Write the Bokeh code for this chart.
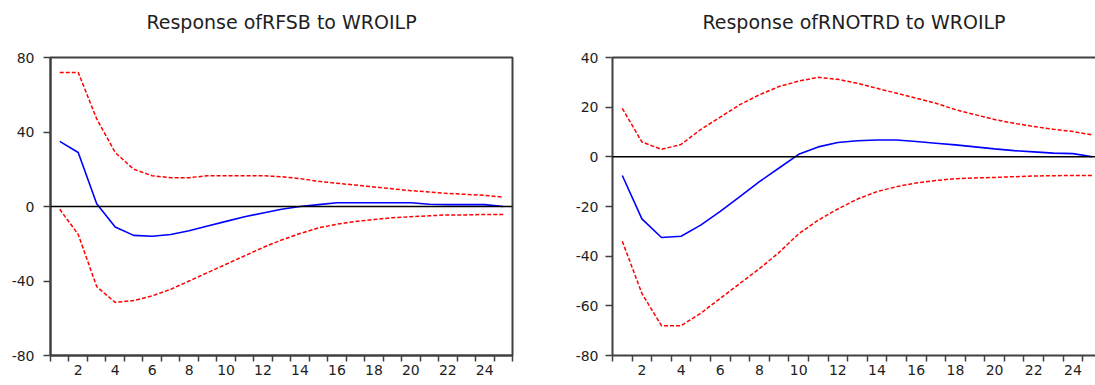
from bokeh.plotting import figure
from bokeh.layouts import row
from bokeh.models import Range1d, FixedTicker, Span, LinearAxis
from bokeh.embed import file_html
from bokeh.resources import INLINE

# ---- data ----
periods = list(range(1, 26))
x_tick_labels = [2, 4, 6, 8, 10, 12, 14, 16, 18, 20, 22, 24]

title_left = "Response ofRFSB to WROILP"
rfsb_resp = [35, 29, 1.5, -11, -15.5, -16, -15, -13, -10.5, -8, -5.5, -3.5, -1.5, 0, 1,
             2, 2, 2, 2, 2, 1.2, 1, 1, 1, 0]
rfsb_upper = [72, 72, 47, 29, 20, 16.5, 15.5, 15.5, 16.5, 16.5, 16.5, 16.5, 16, 15, 13.5,
              12.5, 11.5, 10.5, 9.5, 8.5, 7.8, 7, 6.5, 6, 5]
rfsb_lower = [-1.5, -15, -43, -51.5, -50.5, -48, -44.5, -40, -35.5, -31, -26.5, -22, -18,
              -14.5, -11.5, -9.5, -8, -7, -6, -5.5, -5, -4.5, -4.5, -4.3, -4.3]
rfsb_yticks = [-80, -40, 0, 40, 80]

title_right = "Response ofRNOTRD to WROILP"
rnotrd_resp = [-7.5, -25, -32.5, -32, -27.5, -22, -16, -10, -4.5, 1, 4, 5.8, 6.5, 6.8, 6.8,
               6.2, 5.5, 4.8, 4, 3.2, 2.5, 2, 1.5, 1.3, 0]
rnotrd_upper = [19.5, 6, 3, 5, 11, 16, 21, 25, 28.3, 30.5, 32, 31.2, 29.6, 27.6, 25.6,
                23.6, 21.6, 19, 17, 15, 13.5, 12.2, 11.1, 10.2, 8.8]
rnotrd_lower = [-34, -55, -68, -68, -63, -57, -51, -45, -38.5, -31, -25.5, -21, -17, -14,
                -12, -10.5, -9.5, -8.8, -8.5, -8.3, -8, -7.7, -7.6, -7.5, -7.5]
rnotrd_yticks = [-80, -60, -40, -20, 0, 20, 40]

FONT = "DejaVu Sans"
TXT = "#1e1e1e"
FRAME = "#404040"
boundaries = [i + 0.5 for i in range(0, 26)]


def make_panel(title, resp, upper, lower, yticks, width, mbl, mbr, xend, ystandoff,
               full_outline):
    p = figure(width=width, height=385, output_backend="svg", toolbar_location=None,
               title=title, x_range=Range1d(0.5, xend),
               y_range=Range1d(yticks[0], yticks[-1]),
               min_border_left=mbl, min_border_right=mbr, min_border_top=57,
               min_border_bottom=30)
    p.title.text_font = FONT
    p.title.text_font_size = "19px"
    p.title.text_font_style = "normal"
    p.title.text_color = TXT
    p.title.align = "center"
    p.title.vertical_align = "bottom"
    p.title.standoff = 2
    p.title.padding = (0, 0, 0, 24)
    p.grid.visible = False
    p.background_fill_color = "white"
    p.border_fill_color = "white"

    xa = p.below[0]
    xa.ticker = FixedTicker(ticks=x_tick_labels, minor_ticks=boundaries)
    xa.major_tick_line_color = None
    xa.minor_tick_line_color = FRAME
    xa.minor_tick_line_width = 1.5
    xa.minor_tick_out = 6
    xa.minor_tick_in = 0
    xa.major_label_standoff = 3
    xa.major_label_text_font = FONT
    xa.major_label_text_font_size = "14px"
    xa.major_label_text_color = TXT
    xa.axis_line_color = FRAME
    xa.axis_line_width = 2

    ya = p.left[0]
    ya.ticker = FixedTicker(ticks=yticks)
    ya.major_label_overrides = {t: str(t) for t in yticks}
    ya.major_tick_line_color = FRAME
    ya.major_tick_line_width = 1.5
    ya.major_tick_out = 7
    ya.major_tick_in = 0
    ya.minor_tick_line_color = None
    ya.major_label_standoff = ystandoff
    ya.major_label_text_font = FONT
    ya.major_label_text_font_size = "14px"
    ya.major_label_text_color = TXT
    ya.axis_line_color = FRAME
    ya.axis_line_width = 2

    if full_outline:
        p.outline_line_color = FRAME
        p.outline_line_width = 2
        p.outline_line_alpha = 1
    else:
        p.outline_line_color = None
        top = LinearAxis(ticker=FixedTicker(ticks=[]),
                         major_tick_line_color=None, minor_tick_line_color=None,
                         major_label_text_font_size="0px", major_label_standoff=0,
                         major_tick_out=0, minor_tick_out=0,
                         axis_line_color=FRAME, axis_line_width=2)
        p.add_layout(top, "above")

    p.add_layout(Span(location=0, dimension="width", line_color="black", line_width=1.5))
    p.line(periods, upper, line_color="#ff0000", line_width=1.5, line_dash="4 2")
    p.line(periods, lower, line_color="#ff0000", line_width=1.5, line_dash="4 2")
    p.line(periods, resp, line_color="#0000ff", line_width=1.6)
    return p


left = make_panel(title_left, rfsb_resp, rfsb_upper, rfsb_lower, rfsb_yticks,
                  width=560, mbl=50, mbr=48, xend=25.5, ystandoff=9, full_outline=True)
right = make_panel(title_right, rnotrd_resp, rnotrd_upper, rnotrd_lower, rnotrd_yticks,
                   width=535, mbl=52, mbr=0, xend=25.15, ystandoff=7, full_outline=False)

layout = row(left, right)
open("out.html", "w").write(file_html(layout, INLINE))
